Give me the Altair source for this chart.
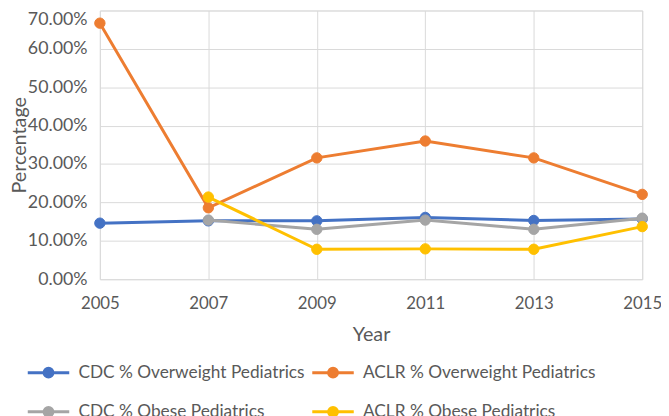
import altair as alt
import pandas as pd

years = [2005, 2007, 2009, 2011, 2013, 2015]
series_names = [
    "CDC % Overweight Pediatrics",
    "ACLR % Overweight Pediatrics",
    "CDC % Obese Pediatrics",
    "ACLR % Obese Pediatrics",
]
series_colors = ["#4472C4", "#ED7D31", "#A5A5A5", "#FFC000"]
cdc_overweight = [14.6, 15.2, 15.2, 16.1, 15.3, 15.7]
aclr_overweight = [66.7, 18.6, 31.6, 36.0, 31.6, 22.1]
cdc_obese = [None, 15.4, 13.0, 15.4, 13.0, 15.9]
aclr_obese = [None, 21.4, 7.8, 7.9, 7.8, 13.7]
y_ticks = [0, 0.1, 0.2, 0.3, 0.4, 0.5, 0.6, 0.7]

rows = []
for name, vals in zip(series_names, [cdc_overweight, aclr_overweight, cdc_obese, aclr_obese]):
    for yr, v in zip(years, vals):
        if v is not None:
            rows.append({"Year": yr, "Value": v / 100.0, "Series": name})
df = pd.DataFrame(rows)

FONT = "Lato"
TEXT = "#595959"
GRID = "#D9D9D9"

x_enc = alt.X(
    "Year:Q",
    scale=alt.Scale(domain=[2005, 2015], nice=False, zero=False),
    axis=alt.Axis(
        values=years, format="d", title="Year", grid=True, gridColor=GRID,
        domain=False, ticks=False, labelPadding=17, labelFontSize=17,
        labelColor=TEXT, labelFont=FONT, labelFlush=False, labelOverlap=False,
        titleFont=FONT, titleFontSize=20, titleColor=TEXT, titleFontWeight="normal",
        titleBaseline="alphabetic", titleY=62,
    ),
)
y_enc = alt.Y(
    "Value:Q",
    scale=alt.Scale(domain=[0, 0.7], nice=False),
    axis=alt.Axis(
        values=y_ticks, format=".2%", title="Percentage", grid=True, gridColor=GRID,
        domain=False, ticks=False, labelPadding=13, labelFontSize=18,
        labelColor=TEXT, labelFont=FONT, labelOverlap=False,
        labelOffset={"condition": {"test": "datum.value >= 0.69", "value": 9}, "value": 0},
        titleFont=FONT, titleFontSize=20, titleColor=TEXT, titleFontWeight="normal",
        titleAngle=270, titleBaseline="alphabetic", titleAlign="center",
        titleX=-75, titleY=136,
    ),
)

sym_path = "M-3.5,0L3.5,0M-0.75,0A0.75,0.75,0,1,0,0.75,0A0.75,0.75,0,1,0,-0.75,0Z"
leg = alt.Legend(
    title=None, orient="none", legendX=-60.75, legendY=357.5, columns=2,
    direction="horizontal", symbolType=sym_path, symbolSize=144,
    symbolStrokeWidth=3, symbolOffset=0, labelOffset=21.5, labelFont=FONT,
    labelFontSize=17.5, labelColor=TEXT, labelLimit=400, rowPadding=18,
    columnPadding=0, padding=0,
)

cscale = alt.Scale(domain=series_names, range=series_colors)
layers = []
for i, name in enumerate(series_names):
    base = alt.Chart(df).transform_filter(alt.datum.Series == name)
    line = base.mark_line(strokeWidth=3).encode(
        x=x_enc, y=y_enc,
        stroke=alt.Stroke("Series:N", scale=cscale, legend=leg),
    )
    pts = base.mark_point(filled=True, size=110, opacity=1, strokeWidth=1).encode(
        x=x_enc, y=y_enc,
        fill=alt.Fill("Series:N", scale=cscale, legend=leg),
        stroke=alt.Stroke("Series:N", scale=cscale, legend=leg),
    )
    layers += [line, pts]

chart = alt.layer(*layers).properties(
    width=549, height=272,
    autosize=alt.AutoSizeParams(type="none"),
    padding={"left": 93, "top": 0, "right": 19, "bottom": 140},
).configure_view(stroke=None).configure(background="white")

chart.save("out.html", embed_options={"renderer": "svg", "actions": False})
